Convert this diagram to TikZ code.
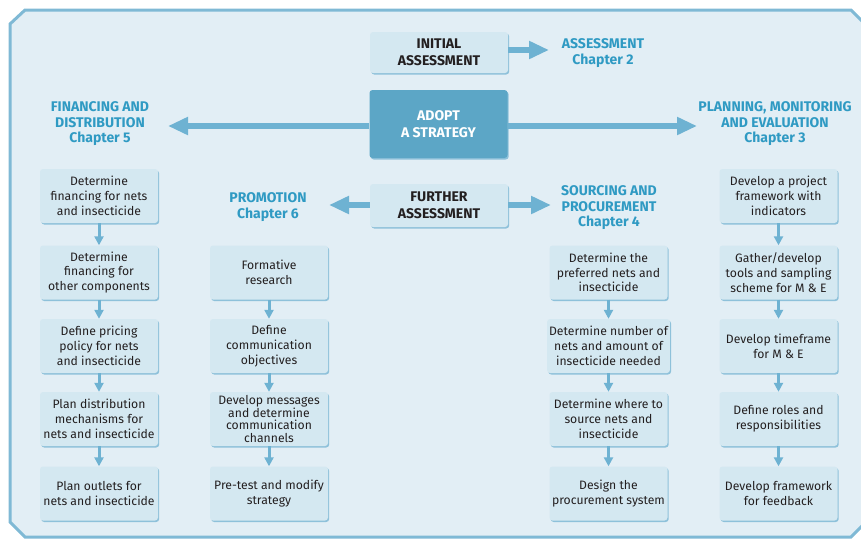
\documentclass[tikz,border=0pt]{standalone}
\usepackage{fontspec}
\setmainfont{Fira Sans}
\usetikzlibrary{arrows.meta,shadows}
\definecolor{framefill}{HTML}{E2EEF5}
\definecolor{framedraw}{HTML}{7FB9D5}
\definecolor{boxfill}{HTML}{D4E8F1}
\definecolor{boxshade}{HTML}{8EC1DA}
\definecolor{adoptfill}{HTML}{5CA6C6}
\definecolor{arrowblue}{HTML}{6EB2D2}
\definecolor{headblue}{HTML}{2F9AC3}
\definecolor{textdark}{HTML}{231F20}
\begin{document}
\begin{tikzpicture}[x=1pt,y=-1pt,
    stepbox/.style={rectangle, rounded corners=3pt, fill=boxfill, text=textdark,
        minimum width=118pt, minimum height=54pt, inner sep=2pt, align=center,
        font=\fontsize{12.2}{14.8}\selectfont,
        drop shadow={shadow xshift=1.2pt, shadow yshift=-1.5pt, fill=boxshade, opacity=1}},
    topbox/.style={stepbox, minimum width=138pt, font=\fontsize{14}{16.5}\selectfont\bfseries},
    headlabel/.style={align=center, text=headblue, inner sep=0pt,
        font=\fontsize{14}{15.5}\selectfont\bfseries},
    bigarrow/.style={draw=arrowblue, line width=6pt, -{Triangle[length=20pt,width=17pt]}},
    smallarrow/.style={draw=arrowblue, line width=3pt, -{Triangle[length=9pt,width=9pt]}}]
    \useasboundingbox (0,0) rectangle (861,539);

    % Frame
    \draw[line width=3pt, draw=framedraw, fill=framefill]
        (10,24) -- (25,10) -- (851,10) -- (866,25) -- (866,522) -- (851,537)
        -- (25,537) -- (10,522) -- cycle;

    % Centre boxes
    \node[topbox, minimum height=41pt] (initial) at (439,52.5) {INITIAL\\ASSESSMENT};
    \node[topbox, minimum height=68pt, fill=adoptfill, text=white, drop shadow={opacity=0}] (adopt) at (438.5,124) {ADOPT\\A STRATEGY};
    \node[topbox, minimum height=43pt] (further) at (439,205.5) {FURTHER\\ASSESSMENT};

    % Chapter headings
    \node[headlabel] (assess) at (603,53) {ASSESSMENT\\Chapter 2};
    \node[headlabel] (financing) at (100,124) {FINANCING AND\\DISTRIBUTION\\Chapter 5};
    \node[headlabel] (planning) at (775,124) {PLANNING, MONITORING\\AND EVALUATION\\Chapter 3};
    \node[headlabel] (promotion) at (268,207) {PROMOTION\\Chapter 6};
    \node[headlabel] (sourcing) at (609,208) {SOURCING AND\\PROCUREMENT\\Chapter 4};

    % Arrow tips
    \coordinate (assessTip) at (549,50);
    \coordinate (financingTip) at (168,126);
    \coordinate (planningTip) at (697,126);
    \coordinate (promotionTip) at (329,205);
    \coordinate (sourcingTip) at (551,205);

    \draw[bigarrow] (initial.east |- assessTip) -- (assessTip);
    \draw[bigarrow] (adopt.west |- financingTip) -- (financingTip);
    \draw[bigarrow] (adopt.east |- planningTip) -- (planningTip);
    \draw[bigarrow] (further.west |- promotionTip) -- (promotionTip);
    \draw[bigarrow] (further.east |- sourcingTip) -- (sourcingTip);

    % Financing and distribution
    \node[stepbox] (fin1) at (99,196) {Determine\\financing for nets\\and insecticide};
    \node[stepbox] (fin2) at (99,272.5) {Determine\\financing for\\other components};
    \node[stepbox] (fin3) at (99,346) {Define pricing\\policy for nets\\and insecticide};
    \node[stepbox] (fin4) at (99,419) {Plan distribution\\mechanisms for\\nets and insecticide};
    \node[stepbox] (fin5) at (99,493.5) {Plan outlets for\\nets and insecticide};

    % Promotion
    \node[stepbox] (pro1) at (269,272.5) {Formative\\research};
    \node[stepbox] (pro2) at (269,346) {Define\\communication\\objectives};
    \node[stepbox, font=\fontsize{12.2}{12.5}\selectfont] (pro3) at (269,419) {Develop messages\\and determine\\communication\\channels};
    \node[stepbox] (pro4) at (269,493.5) {Pre-test and modify\\strategy};

    % Sourcing and procurement
    \node[stepbox] (src1) at (608.5,272.5) {Determine the\\preferred nets and\\insecticide};
    \node[stepbox] (src2) at (608.5,346) {Determine number of\\nets and amount of\\insecticide needed};
    \node[stepbox] (src3) at (608.5,419) {Determine where to\\source nets and\\insecticide};
    \node[stepbox] (src4) at (608.5,493.5) {Design the\\procurement system};

    % Planning, monitoring and evaluation
    \node[stepbox] (pme1) at (778.5,196) {Develop a project\\framework with\\indicators};
    \node[stepbox] (pme2) at (778.5,272.5) {Gather/develop\\tools and sampling\\scheme for M \& E};
    \node[stepbox] (pme3) at (778.5,346) {Develop timeframe\\for M \& E};
    \node[stepbox] (pme4) at (778.5,419) {Define roles and\\responsibilities};
    \node[stepbox] (pme5) at (778.5,493.5) {Develop framework\\for feedback};

    % Step arrows
    \draw[smallarrow] (fin1) -- (fin2);
    \draw[smallarrow] (fin2) -- (fin3);
    \draw[smallarrow] (fin3) -- (fin4);
    \draw[smallarrow] (fin4) -- (fin5);
    \draw[smallarrow] (pro1) -- (pro2);
    \draw[smallarrow] (pro2) -- (pro3);
    \draw[smallarrow] (pro3) -- (pro4);
    \draw[smallarrow] (src1) -- (src2);
    \draw[smallarrow] (src2) -- (src3);
    \draw[smallarrow] (src3) -- (src4);
    \draw[smallarrow] (pme1) -- (pme2);
    \draw[smallarrow] (pme2) -- (pme3);
    \draw[smallarrow] (pme3) -- (pme4);
    \draw[smallarrow] (pme4) -- (pme5);
\end{tikzpicture}
\end{document}
